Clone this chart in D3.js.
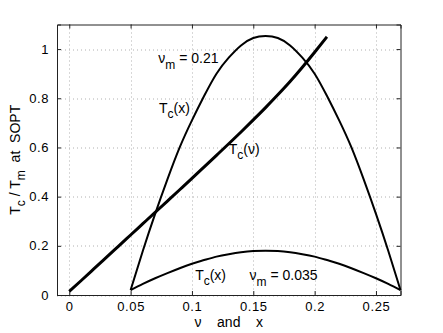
<!DOCTYPE html>
<html lang="en">
<head>
<meta charset="utf-8" />
<title>Tc / Tm at SOPT</title>
<script src="https://d3js.org/d3.v7.min.js"></script>
<style>
  body { margin: 0; background: #fff; }
  text { font-family: "Liberation Sans", Arial, Helvetica, sans-serif; fill: #000; }
</style>
</head>
<body>
<div id="chart"></div>
<script>
// data
var nuVals   = [0, 0.01, 0.02, 0.03, 0.04, 0.05, 0.06, 0.07, 0.08, 0.09, 0.10, 0.11,
                0.12, 0.13, 0.14, 0.15, 0.16, 0.17, 0.18, 0.19, 0.20, 0.21];
var tcNu     = [0.015, 0.06, 0.106, 0.152, 0.198, 0.244, 0.29, 0.336, 0.382, 0.428, 0.474, 0.521,
                0.568, 0.615, 0.663, 0.712, 0.762, 0.814, 0.868, 0.926, 0.987, 1.05];

var xVals    = [0.05, 0.06, 0.07, 0.08, 0.09, 0.10, 0.11, 0.12, 0.13, 0.14, 0.15, 0.16,
                0.17, 0.18, 0.19, 0.20, 0.21, 0.22, 0.23, 0.24, 0.25, 0.26, 0.27];
var tcX021   = [0.02, 0.18, 0.33, 0.47, 0.60, 0.71, 0.81, 0.90, 0.965, 1.015, 1.045, 1.053,
                1.045, 1.015, 0.965, 0.90, 0.81, 0.71, 0.60, 0.47, 0.33, 0.18, 0.02];
var tcX0035  = [0.02, 0.045, 0.068, 0.089, 0.109, 0.127, 0.142, 0.156, 0.166, 0.174, 0.179, 0.18,
                0.179, 0.174, 0.166, 0.156, 0.142, 0.127, 0.109, 0.089, 0.068, 0.045, 0.02];

var xTicks = [0, 0.05, 0.1, 0.15, 0.2, 0.25];
var yTicks = [0, 0.2, 0.4, 0.6, 0.8, 1];

// annotation anchors (data coords)
var notes = [
  { x: 0.0726, y: 0.943, main: "\u03bd", sub: "m", rest: " = 0.21" },
  { x: 0.0731, y: 0.739, main: "T", sub: "c", rest: "(x)" },
  { x: 0.130,  y: 0.573, main: "T", sub: "c", rest: "(\u03bd)" },
  { x: 0.1026, y: 0.061, main: "T", sub: "c", rest: "(x)" },
  { x: 0.147,  y: 0.061, main: "\u03bd", sub: "m", rest: " = 0.035" }
];

var W = 443, H = 333;
var margin = { top: 24.5, right: 42.5, bottom: 38, left: 57 },
    width = W - margin.left - margin.right,
    height = H - margin.top - margin.bottom;

var svg = d3.select("#chart").append("svg")
    .attr("width", W).attr("height", H);
var g = svg.append("g")
    .attr("transform", "translate(" + margin.left + "," + margin.top + ")");

var x = d3.scaleLinear().domain([-0.01, 0.27]).range([0, width]);
var y = d3.scaleLinear().domain([0, 1.1]).range([height, 0]);

// grid
g.append("g").selectAll("line").data(xTicks).enter().append("line")
    .attr("x1", d => Math.round(x(d)) + 0.5).attr("x2", d => Math.round(x(d)) + 0.5)
    .attr("y1", 0).attr("y2", height)
    .attr("stroke", "#b0b0b0").attr("stroke-dasharray", "1,3");
g.append("g").selectAll("line").data(yTicks).enter().append("line")
    .attr("y1", d => Math.round(y(d)) + 0.5).attr("y2", d => Math.round(y(d)) + 0.5)
    .attr("x1", 0).attr("x2", width)
    .attr("stroke", "#b0b0b0").attr("stroke-dasharray", "1,3");

// axes (ticks inside, MATLAB style)
g.append("g").attr("transform", "translate(0," + height + ")")
    .call(d3.axisBottom(x).tickValues(xTicks).tickSize(-4).tickPadding(7).tickFormat(d3.format("")));
g.append("g")
    .call(d3.axisLeft(y).tickValues(yTicks).tickSize(-4).tickPadding(8).tickFormat(d3.format("")));
g.append("g")
    .call(d3.axisTop(x).tickValues(xTicks).tickSize(-4).tickFormat(""));
g.append("g").attr("transform", "translate(" + width + ",0)")
    .call(d3.axisRight(y).tickValues(yTicks).tickSize(-4).tickFormat(""));
g.selectAll(".domain").attr("stroke", "#222");
g.selectAll(".tick line").attr("stroke", "#222");
g.selectAll(".tick text")
    .style("font-family", "'Liberation Sans', Arial, sans-serif")
    .style("font-size", "13px").style("letter-spacing", "0.6px").attr("fill", "#000");

// curves
var line = d3.line().x(d => x(d[0])).y(d => y(d[1])).curve(d3.curveNatural);
g.append("path").datum(d3.zip(nuVals, tcNu))
    .attr("d", line).attr("fill", "none").attr("stroke", "#000").attr("stroke-width", 3);
g.append("path").datum(d3.zip(xVals, tcX021))
    .attr("d", line).attr("fill", "none").attr("stroke", "#000").attr("stroke-width", 2);
g.append("path").datum(d3.zip(xVals, tcX0035))
    .attr("d", line).attr("fill", "none").attr("stroke", "#000").attr("stroke-width", 2);

// annotations
notes.forEach(function (n) {
  var t = g.append("text").attr("x", x(n.x)).attr("y", y(n.y)).style("font-size", "14px");
  t.append("tspan").text(n.main);
  t.append("tspan").attr("dy", n.main === "T" ? 5 : 6).style("font-size", "12px").text(n.sub);
  t.append("tspan").attr("dy", n.main === "T" ? -5 : -6).text(n.rest);
});

// axis labels
var yl = svg.append("text")
    .attr("transform", "translate(20," + (margin.top + height / 2) + ") rotate(-90)")
    .attr("text-anchor", "middle").attr("xml:space", "preserve").style("font-size", "14px");
yl.append("tspan").text("T");
yl.append("tspan").attr("dy", 5).style("font-size", "12px").text("c");
yl.append("tspan").attr("dy", -5).text(" / T");
yl.append("tspan").attr("dy", 5).style("font-size", "12px").text("m");
yl.append("tspan").attr("dy", -5).text("  at  SOPT");

svg.append("text")
    .attr("x", margin.left + width / 2).attr("y", 327)
    .attr("text-anchor", "middle").attr("xml:space", "preserve")
    .style("font-size", "14px")
    .text("\u03bd    and    x");
</script>
</body>
</html>
